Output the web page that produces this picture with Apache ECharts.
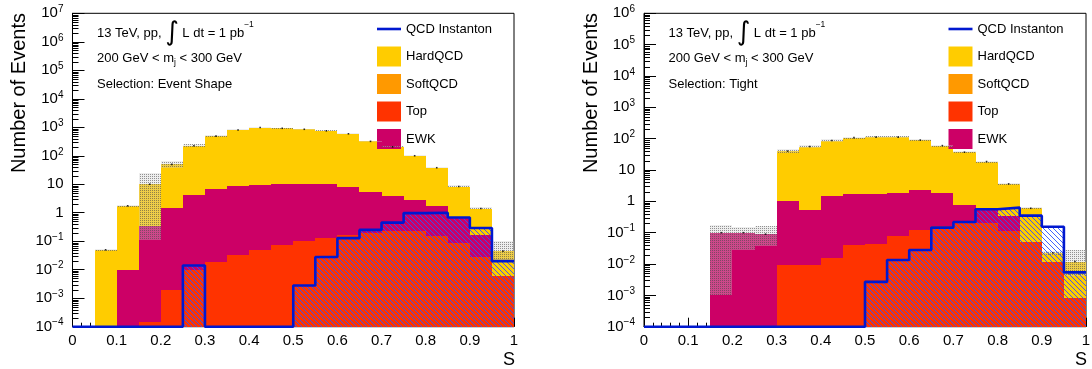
<!DOCTYPE html>
<html><head><meta charset="utf-8">
<script src="https://cdn.jsdelivr.net/npm/echarts@6/dist/echarts.min.js"></script>
<style>html,body{margin:0;padding:0;background:#fff}#c{width:1092px;height:369px}</style>
</head><body><div id="c"></div>
<script>
const FONT = '"Liberation Sans", Arial, Helvetica, sans-serif';
const binEdges = [0,0.05,0.1,0.15,0.2,0.25,0.3,0.35,0.4,0.45,0.5,0.55,0.6,0.65,0.7,0.75,0.8,0.85,0.9,0.95,1];
const xTickLabels = ['0','0.1','0.2','0.3','0.4','0.5','0.6','0.7','0.8','0.9','1'];
const legendNames = ['QCD Instanton','HardQCD','SoftQCD','Top','EWK'];
const infoLeft = ['13 TeV, pp,', '200 GeV < m', 'Selection: Event Shape'];
const infoRight = ['13 TeV, pp,', '200 GeV < m', 'Selection: Tight'];

// ---- left panel (Selection: Event Shape): visible stack levels ----
const leftStackTotal = [0,0.05,1.75,10,50,225,490,800,980,920,850,750,590,320,205,100,38,8.3,1.4,0.045];
const leftEWKLevel   = [0,0,0.01,0.35,1.52,4.2,6.7,8.5,9.7,10.3,10.5,9.8,7.9,5.5,3.9,2.8,1.7,0.68,0.17,0.0058];
const leftTopLevel   = [0,0,0,0.00015,0.002,0.0095,0.018,0.033,0.05,0.071,0.098,0.13,0.16,0.2,0.22,0.22,0.155,0.085,0.029,0.0058];
const leftInstanton  = [0,0,0,0,0,0.014,0,0,0,0,0.0028,0.028,0.128,0.25,0.45,0.97,1.0,0.68,0.29,0.02];
const leftBandLow    = [0,0.047,1.6,0.11,37,200,460,770,950,890,820,720,560,300,195,95,36,7.7,1.3,0.018];
const leftBandHigh   = [0,0.053,1.9,25,68,260,530,840,1020,960,880,780,620,340,220,106,40,9.2,1.6,0.1];

// ---- right panel (Selection: Tight) ----
const rightStackTotal = [0,0,0,0.1,0.1,0.09,40,56,87,108,112,112,90,60,37,18.6,3.6,0.6,0.023,0.012];
const rightEWKLevel   = [0,0,0,0.1,0.1,0.09,1.04,0.54,1.53,1.7,1.7,1.8,2.3,1.9,0.75,0.6,0.33,0.052,0.012,0.0008];
const rightTopLevel   = [0,0,0,0,0,0,0.0095,0.0095,0.0155,0.041,0.044,0.079,0.125,0.16,0.21,0.2,0.117,0.052,0.012,0.0008];
const rightInstanton  = [0,0,0,0,0,0,0,0,0,0,0.0027,0.0134,0.028,0.145,0.22,0.56,0.63,0.35,0.155,0.0054];
const rightBandLow    = [0,0,0,0.001,0.028,0.037,34,50,80,100,105,105,84,56,34,17,3.3,0.55,0.02,0.004];
const rightBandHigh   = [0,0,0,0.18,0.157,0.16,46,63,95,116,120,120,96,65,40,20,3.9,0.68,0.027,0.028];

const COL = {HardQCD:'#ffcc00', SoftQCD:'#ff9900', Top:'#ff3300', EWK:'#cc0066', Inst:'#0018d0'};
const YMIN = 1e-4;
const panels = [
  {max:1e7, total:leftStackTotal, ewk:leftEWKLevel, top:leftTopLevel, inst:leftInstanton, lo:leftBandLow, hi:leftBandHigh, info:infoLeft},
  {max:1e6, total:rightStackTotal, ewk:rightEWKLevel, top:rightTopLevel, inst:rightInstanton, lo:rightBandLow, hi:rightBandHigh, info:infoRight}
];
const gridPos = [{left:72.5, width:441.5}, {left:644, width:442}];

function makeTile(size, draw){ const c=document.createElement('canvas'); c.width=size; c.height=size; draw(c.getContext('2d'), size); return c; }
const hatchTile = makeTile(5, (g,n)=>{ g.strokeStyle='#2a55ff'; g.lineWidth=0.9; for(let k=-1;k<=1;k++){ g.beginPath(); g.moveTo(-1+k*n,-1); g.lineTo(n+1+k*n,n+1); g.stroke(); } });
const dotTile = makeTile(2, (g)=>{ g.fillStyle='rgba(205,205,205,0.35)'; g.fillRect(0,0,2,2); g.fillStyle='rgba(70,70,70,0.55)'; g.fillRect(0,0,1,1); });
const hatchFill = {image:hatchTile, repeat:'repeat'};
const dotFill = {image:dotTile, repeat:'repeat'};

function rectFrom(api, x0, x1, yTop, yBot){
  const a = api.coord([x0, yTop]), b = api.coord([x1, yBot]);
  const X0=Math.round(a[0]), X1=Math.round(b[0]), Y0=Math.round(a[1]), Y1=Math.round(b[1]);
  return {x:X0, y:Y0, width:X1-X0, height:Y1-Y0};
}
function histSeries(name, gi, vals, fill, z, legendColor){
  const data=[]; vals.forEach((v,i)=>{ if(v>0) data.push([binEdges[i], binEdges[i+1], v]); });
  return {type:'custom', name, xAxisIndex:gi, yAxisIndex:gi, z, silent:true, itemStyle:{color:legendColor||fill}, encode:{x:[0,1], y:2}, data,
    renderItem(p, api){ return {type:'rect', shape:rectFrom(api, api.value(0), api.value(1), api.value(2), YMIN), style:{fill}}; }};
}
function bandSeries(gi, lo, hi){
  const data=[]; lo.forEach((v,i)=>{ if(hi[i]>0) data.push([binEdges[i], binEdges[i+1], Math.max(v,YMIN), hi[i]]); });
  return {type:'custom', name:'band', xAxisIndex:gi, yAxisIndex:gi, z:5, silent:true, encode:{x:[0,1], y:[2,3]}, data,
    renderItem(p, api){ return {type:'rect', shape:rectFrom(api, api.value(0), api.value(1), api.value(3), api.value(2)), style:{fill:dotFill}}; }};
}
function dotSeries(gi, vals){
  const data=[]; vals.forEach((v,i)=>{ if(v>0) data.push([(binEdges[i]+binEdges[i+1])/2, v]); });
  return {type:'scatter', xAxisIndex:gi, yAxisIndex:gi, z:8, silent:true, symbol:'rect', symbolSize:1.6, itemStyle:{color:'#000'}, data};
}
function instLine(gi, vals){
  const data = vals.map((v,i)=>[binEdges[i], Math.max(v,YMIN)]);
  data.push([1, Math.max(vals[vals.length-1],YMIN)]);
  return {type:'line', name:'QCD Instanton', xAxisIndex:gi, yAxisIndex:gi, z:9, step:'end', symbol:'none', clip:false, silent:true,
    itemStyle:{color:COL.Inst}, lineStyle:{color:COL.Inst, width:2.6}, data};
}
function minorTickSeries(gi, max){
  const data=[]; const top=Math.round(Math.log10(max));
  for(let e=-4;e<top;e++){ for(let k=2;k<=9;k++) data.push([0, k*Math.pow(10,e)]); }
  return {type:'custom', name:'ticks', xAxisIndex:gi, yAxisIndex:gi, z:10, silent:true, clip:false, data, encode:{x:0,y:1},
    renderItem(p, api){ const c=api.coord([api.value(0), api.value(1)]); const y=Math.round(c[1])+0.5;
      return {type:'line', shape:{x1:c[0], y1:y, x2:c[0]+6, y2:y}, style:{stroke:'#000', lineWidth:1}}; }};
}
function logLabel(v){
  const e=Math.round(Math.log10(v));
  if(e===0) return '{b|1}'; if(e===1) return '{b|10}';
  return '{b|10}{s|'+(e<0?'\u2212':'')+Math.abs(e)+'}';
}

const grids=[], xAxes=[], yAxes=[], series=[], legends=[], graphics=[];
panels.forEach((P, gi)=>{
  grids.push({left:gridPos[gi].left, width:gridPos[gi].width, top:13.3, height:313.4, show:true, borderColor:'#000', borderWidth:1, containLabel:false, outerBoundsMode:'none'});
  xAxes.push({type:'value', gridIndex:gi, min:0, max:1, interval:0.1,
    axisLine:{show:true, onZero:false, lineStyle:{color:'#000', width:1}},
    axisTick:{show:true, inside:true, length:9, lineStyle:{color:'#000'}},
    minorTick:{show:true, splitNumber:5, length:4, lineStyle:{color:'#000'}},
    splitLine:{show:false}, minorSplitLine:{show:false},
    axisLabel:{show:true, margin:7, color:'#000', fontSize:15, fontFamily:FONT, hideOverlap:false, formatter:(v)=>xTickLabels[Math.round(v*10)]}});
  yAxes.push({type:'log', gridIndex:gi, logBase:10, min:YMIN, max:P.max, interval:1,
    axisLine:{show:true, lineStyle:{color:'#000'}},
    axisTick:{show:true, inside:true, length:12, interval:0, lineStyle:{color:'#000'}},
    splitLine:{show:false},
    axisLabel:{show:true, interval:0, hideOverlap:false, margin:9, color:'#000', formatter:logLabel,
      rich:{b:{fontSize:15, fontFamily:FONT, color:'#000', lineHeight:18}, s:{fontSize:10, fontFamily:FONT, color:'#000', lineHeight:10, verticalAlign:'top'}}}});
  series.push(histSeries('HardQCD', gi, P.total, COL.HardQCD, 1));
  series.push(histSeries('SoftQCD', gi, [], COL.SoftQCD, 1));
  series.push(histSeries('EWK', gi, P.ewk, COL.EWK, 2));
  series.push(histSeries('Top', gi, P.top, COL.Top, 3));
  series.push(bandSeries(gi, P.lo, P.hi));
  series.push(histSeries('inst hatch', gi, P.inst, hatchFill, 6, COL.Inst));
  series.push(instLine(gi, P.inst));
  series.push(dotSeries(gi, P.total));
  series.push(minorTickSeries(gi, P.max));

  const L = gridPos[gi].left, R = L + gridPos[gi].width;
  legends.push({orient:'vertical', left:L+299.5, top:14, itemWidth:24, itemHeight:20, itemGap:7.5, selectedMode:false,
    textStyle:{fontSize:13, color:'#000', fontFamily:FONT, lineHeight:20},
    data:[{name:'QCD Instanton', icon:'path://M0,0L24,0L24,2.6L0,2.6Z'},{name:'HardQCD',icon:'rect'},{name:'SoftQCD',icon:'rect'},{name:'Top',icon:'rect'},{name:'EWK',icon:'rect'}]});
  const tx = L + 24.5;
  const rich = {a:{fontSize:13, fontFamily:FONT, color:'#000', lineHeight:26}, i:{fontSize:26, fontFamily:'"DejaVu Sans", sans-serif', color:'#000', lineHeight:26},
    s:{fontSize:8.5, fontFamily:FONT, color:'#000', lineHeight:10, verticalAlign:'top'}};
  graphics.push({type:'text', x:tx, y:33, silent:true, style:{text:'{a|'+P.info[0]+' }{i|\u222B}{a| L dt = 1 pb}{s|\u22121}', rich, verticalAlign:'middle'}});
  graphics.push({type:'text', x:tx, y:58.5, silent:true, style:{text:'{a|'+P.info[1]+'}{u|j}{a| < 300 GeV}', rich:{a:{fontSize:13, fontFamily:FONT, color:'#000', lineHeight:18}, u:{fontSize:8.5, fontFamily:FONT, color:'#000', lineHeight:8, verticalAlign:'bottom'}}, verticalAlign:'middle'}});
  graphics.push({type:'text', x:tx, y:84, silent:true, style:{text:P.info[2], font:'13px '+FONT, fill:'#000', verticalAlign:'middle'}});
  graphics.push({type:'text', x:L-53, y:13, rotation:Math.PI/2, silent:true, style:{text:'Number of Events', font:'20px '+FONT, fill:'#000', align:'right', verticalAlign:'middle'}});
  graphics.push({type:'text', x:R+1, y:360, silent:true, style:{text:'S', font:'18px '+FONT, fill:'#000', align:'right', verticalAlign:'middle'}});
});

const chart = echarts.init(document.getElementById('c'), null, {renderer:'canvas'});
chart.setOption({animation:false, backgroundColor:'#fff', grid:grids, xAxis:xAxes, yAxis:yAxes, legend:legends, series, graphic:graphics});
</script></body></html>
